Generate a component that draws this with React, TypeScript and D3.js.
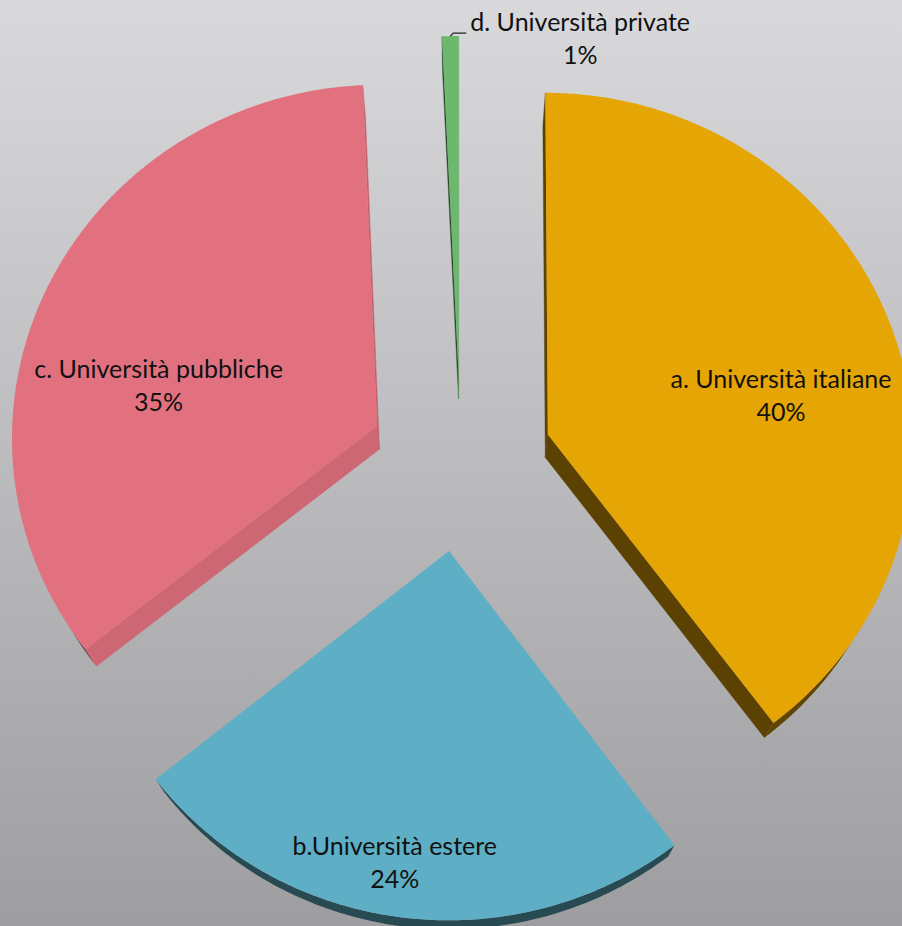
import React, { useEffect, useRef } from "react";
import * as d3 from "d3";

// ---- data ----
const categories = [
  "a. Università italiane",
  "b.Università estere",
  "c. Università pubbliche",
  "d. Università private",
];
const shares = [39.8, 24.45, 35.0, 0.75];

// ---- style ----
const faceColors = ["#E5A505", "#5EAFC5", "#E2717F", "#6BB86E"];

// ---- layout ----
const W = 902;
const H = 926;
const CX = 460.7;
const CY = 462.3;
const R = 366;
const EXPLODE = 92;
const K = 0.965; // vertical foreshortening of the tilted pie
const PERSP = 0.00008; // perspective strength
const VP: [number, number] = [460, 1230]; // vanishing point of the thickness
const DEPTH_T = 0.029;
// label anchor, polar around each slice's apex (degrees clockwise from 12 o'clock, px)
const labelPolar = [
  { a: 82.4, r: 236.6 },
  { a: 189.3, r: 322.5 },
  { a: 278.7, r: 222.5 },
  { a: 19.6, r: 375.4 },
];
const outsideLabel = [false, false, false, true];

type P2 = [number, number];

export default function App() {
  const ref = useRef<SVGSVGElement>(null);

  useEffect(() => {
    const svg = d3.select(ref.current);
    svg.selectAll("*").remove();

    const defs = svg.append("defs");
    const bg = defs
      .append("linearGradient")
      .attr("id", "bg")
      .attr("x1", 0)
      .attr("y1", 0)
      .attr("x2", 0)
      .attr("y2", 1);
    bg.append("stop").attr("offset", "0%").attr("stop-color", "#D9D9DB");
    bg.append("stop").attr("offset", "100%").attr("stop-color", "#9E9EA0");
    svg.append("rect").attr("width", W).attr("height", H).attr("fill", "url(#bg)");

    const total = d3.sum(shares);
    const arcs = d3
      .pie<number>()
      .sort(null)
      .startAngle(0)
      .endAngle(2 * Math.PI)
      .value((d) => d)(shares);

    const project = (p: P2): P2 => {
      const w = 1 - PERSP * p[1];
      return [CX + p[0] / w, CY + (K * p[1]) / w];
    };
    const drop = (q: P2): P2 => [
      q[0] + DEPTH_T * (VP[0] - q[0]),
      q[1] + DEPTH_T * (VP[1] - q[1]),
    ];
    const line = d3.line();
    const toRad = Math.PI / 180;
    const shade = (face: string, f: number) => d3.interpolateRgb("#000000", face)(f);
    const straightFactor = (normal: number) =>
      0.4 + 0.55 * Math.max(0, Math.cos(normal - 120 * toRad));
    const facing = (n: P2, q: P2) => {
      const b = drop(q);
      return n[0] * (b[0] - q[0]) + n[1] * (b[1] - q[1]) > 0;
    };

    const gSlices = svg.append("g");
    const gLabels = svg.append("g");
    const fmt = d3.format(".0%");

    arcs.forEach((arc, i) => {
      const a0 = arc.startAngle;
      const a1 = arc.endAngle;
      const mid = (a0 + a1) / 2;
      const o: P2 = [EXPLODE * Math.sin(mid), -EXPLODE * Math.cos(mid)];
      const pt = (a: number, r: number): P2 => [o[0] + r * Math.sin(a), o[1] - r * Math.cos(a)];
      const n = Math.max(2, Math.ceil((a1 - a0) / (0.5 * toRad)));
      const angScale = d3.scaleLinear().domain([0, n]).range([a0, a1]);
      const arcTop = d3.range(n + 1).map((k) => project(pt(angScale(k), R)));
      const apex = project(o);
      const apexBot = drop(apex);
      const face = faceColors[i];
      const g = gSlices.append("g");

      // outer (curved) side: only the runs that face the viewer
      const arcSideColor = shade(face, 0.42);
      const runs: number[][] = [];
      let cur: number[] = [];
      for (let k = 0; k < n; k++) {
        const p0 = arcTop[k];
        const p1 = arcTop[k + 1];
        const nrm: P2 = [p1[1] - p0[1], -(p1[0] - p0[0])];
        const m: P2 = [(p0[0] + p1[0]) / 2, (p0[1] + p1[1]) / 2];
        if (facing(nrm, m)) {
          if (cur.length === 0) cur.push(k);
          cur.push(k + 1);
        } else if (cur.length) {
          runs.push(cur);
          cur = [];
        }
      }
      if (cur.length) runs.push(cur);
      runs.forEach((run) => {
        const top = run.map((k) => arcTop[k]);
        const bot = top.map(drop).reverse();
        g.append("path")
          .attr("d", line([...top, ...bot]) + "Z")
          .attr("fill", arcSideColor);
      });

      // straight sides
      const c0 = arcTop[0];
      const c1 = arcTop[arcTop.length - 1];
      const sides: { p: P2; normalAngle: number; nrm: P2 }[] = [
        { p: c0, normalAngle: a0 - Math.PI / 2, nrm: [c0[1] - apex[1], -(c0[0] - apex[0])] },
        { p: c1, normalAngle: a1 + Math.PI / 2, nrm: [-(c1[1] - apex[1]), c1[0] - apex[0]] },
      ];
      sides.forEach((s) => {
        const m: P2 = [(apex[0] + s.p[0]) / 2, (apex[1] + s.p[1]) / 2];
        if (!facing(s.nrm, m)) return;
        const c = shade(face, straightFactor(s.normalAngle));
        g.append("path")
          .attr("d", line([apex, s.p, drop(s.p), apexBot]) + "Z")
          .attr("fill", c)
          .attr("stroke", c)
          .attr("stroke-width", 0.4);
      });

      // top face
      g.append("path")
        .attr("d", line([apex, ...arcTop]) + "Z")
        .attr("fill", face);

      // label
      const lp = labelPolar[i];
      const anchor = project([
        o[0] + lp.r * Math.sin(lp.a * toRad),
        o[1] - lp.r * Math.cos(lp.a * toRad),
      ]);
      const text = gLabels
        .append("text")
        .attr("text-anchor", "middle")
        .attr("font-family", "Lato, 'Open Sans', sans-serif")
        .attr("font-size", 25)
        .attr("fill", "#111111");
      const t1 = text
        .append("tspan")
        .attr("x", anchor[0])
        .attr("y", anchor[1] - 16)
        .text(categories[i]);
      text
        .append("tspan")
        .attr("x", anchor[0])
        .attr("y", anchor[1] + 17)
        .text(fmt(shares[i] / total));

      if (outsideLabel[i]) {
        const start = project(pt(mid, R));
        const elbow: P2 = [start[0] + 3, start[1] - 3];
        const bb = (t1.node() as SVGTSpanElement).getBBox();
        const end: P2 = [bb.x - 4, elbow[1]];
        gLabels
          .append("path")
          .attr("d", line([start, elbow, end]))
          .attr("fill", "none")
          .attr("stroke", "#222")
          .attr("stroke-width", 1.2);
      }
    });
  }, []);

  return (
    <svg
      ref={ref}
      width={W}
      height={H}
      style={{ position: "absolute", left: 0, top: 0, display: "block" }}
    />
  );
}
